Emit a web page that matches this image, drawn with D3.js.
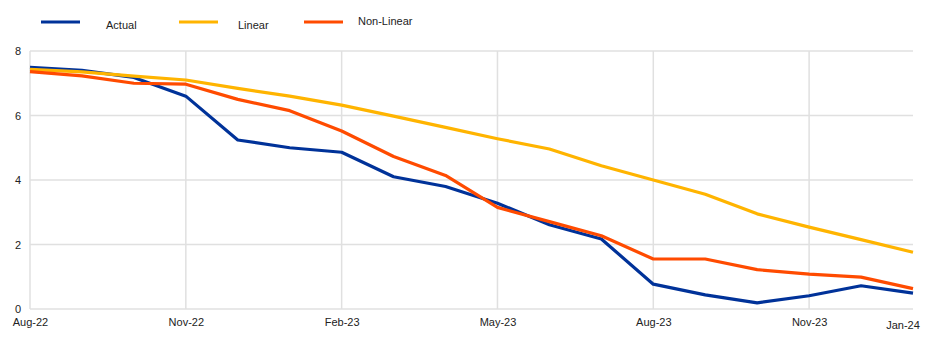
<!DOCTYPE html>
<html><head><meta charset="utf-8">
<script src="https://cdn.jsdelivr.net/npm/d3@7"></script>
<style>
body{margin:0;background:#fff;}
svg text{font-family:"Liberation Sans",Arial,sans-serif;font-size:11px;fill:#222;}
</style></head>
<body><svg id="c" width="945" height="344"></svg>
<script>
const months = ["Aug-22","Sep-22","Oct-22","Nov-22","Dec-22","Jan-23","Feb-23","Mar-23","Apr-23","May-23","Jun-23","Jul-23","Aug-23","Sep-23","Oct-23","Nov-23","Dec-23","Jan-24"];
const actual = [7.49,7.4,7.18,6.6,5.24,5.0,4.86,4.1,3.8,3.28,2.61,2.17,0.77,0.44,0.19,0.41,0.72,0.49];
const linear = [7.43,7.35,7.22,7.1,6.84,6.6,6.32,5.98,5.63,5.28,4.96,4.44,4.0,3.56,2.95,2.54,2.15,1.76];
const nonLinear = [7.36,7.23,7.0,6.97,6.5,6.15,5.52,4.73,4.14,3.15,2.71,2.27,1.55,1.55,1.22,1.08,0.99,0.63];
const yTicks = [0,2,4,6,8];
const xTickLabels = ["Aug-22","Nov-22","Feb-23","May-23","Aug-23","Nov-23"];
const lastLabel = "Jan-24";
const seriesNames = ["Actual","Linear","Non-Linear"];
const colors = ["#003299","#FFB400","#FF4B00"];

const svg = d3.select("#c");
const m = {l:30, r:32, t:51, b:35};
const W = 945, H = 344;
const x = d3.scalePoint().domain(months).range([m.l, W - m.r]);
const y = d3.scaleLinear().domain([0,8]).range([H - m.b, m.t]);

// grid
const g = svg.append("g");
g.selectAll("line.h").data(yTicks).enter().append("line")
  .attr("x1", m.l).attr("x2", W - m.r)
  .attr("y1", d => y(d)).attr("y2", d => y(d))
  .attr("stroke", "#e0e0e0").attr("stroke-width", 1.5);
g.selectAll("line.v").data(xTickLabels).enter().append("line")
  .attr("x1", d => x(d)).attr("x2", d => x(d))
  .attr("y1", y(8)).attr("y2", y(0))
  .attr("stroke", "#e0e0e0").attr("stroke-width", 1.5);

// y axis labels
const yAxis = d3.axisLeft(y).tickValues(yTicks).tickSize(0).tickPadding(0).tickFormat(d3.format("d"));
const ya = svg.append("g").attr("transform", `translate(${m.l - 9},0)`).call(yAxis);
ya.select(".domain").remove();
ya.selectAll("text").style("font-size","11px").style("font-family","Liberation Sans, Arial, sans-serif").attr("fill","#222");

// x axis labels
const xAxis = d3.axisBottom(x).tickValues(xTickLabels).tickSize(0).tickPadding(0);
const xa = svg.append("g").attr("transform", `translate(0,${y(0) + 9})`).call(xAxis);
xa.select(".domain").remove();
xa.selectAll("text").style("font-size","11px").style("font-family","Liberation Sans, Arial, sans-serif").attr("fill","#222");
svg.append("text").attr("x", x(lastLabel) - 10).attr("y", y(0) + 20)
  .attr("text-anchor","middle").text(lastLabel);

// lines
const line = d3.line().x((d,i) => x(months[i])).y(d => y(d));
[actual, linear, nonLinear].forEach((s, k) => {
  svg.append("path").datum(s).attr("d", line)
    .attr("fill","none").attr("stroke", colors[k]).attr("stroke-width", 3.2)
    .attr("stroke-linejoin","round");
});

// legend
const legX = [41, 179, 304];
const legTX = [106, 238, 358];
seriesNames.forEach((n, k) => {
  svg.append("line").attr("x1", legX[k]).attr("x2", legX[k] + 39)
    .attr("y1", 22).attr("y2", 22).attr("stroke", colors[k]).attr("stroke-width", 3);
  svg.append("text").attr("x", legTX[k]).attr("y", k === 2 ? 25 : 29).text(n);
});
</script></body></html>
